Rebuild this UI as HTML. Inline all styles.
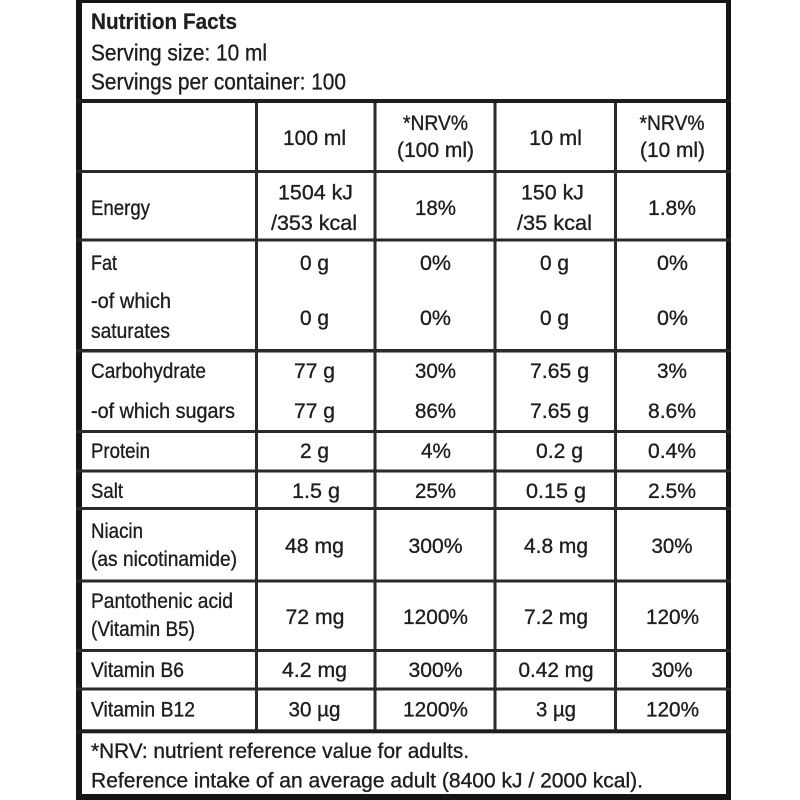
<!DOCTYPE html>
<html>
<head>
<meta charset="utf-8">
<style>
html,body{margin:0;padding:0;background:#fff;}
svg{display:block;}
text{font-family:"Liberation Sans",Arial,sans-serif;fill:#1e1e1e;stroke:#1e1e1e;stroke-width:0.35px;font-size:21.5px;}
.t{font-weight:bold;font-size:22px;stroke-width:0.2px;}
.h{font-size:23.5px;}
</style>
</head>
<body>
<svg width="800" height="800" viewBox="0 0 800 800" xmlns="http://www.w3.org/2000/svg">
<rect x="0" y="0" width="800" height="800" fill="#fff"/>
<!-- outer border -->
<rect x="76" y="0" width="655" height="3" fill="#151515"/>
<rect x="76" y="0" width="6" height="800" fill="#151515"/>
<rect x="726" y="0" width="5" height="800" fill="#151515"/>
<rect x="76" y="794" width="655" height="6" fill="#151515"/>
<!-- horizontal lines -->
<rect x="76" y="99" width="655" height="4" fill="#1e1e1e"/>
<rect x="76" y="170" width="655" height="3" fill="#2a2a2a"/>
<rect x="76" y="238.5" width="655" height="3" fill="#2a2a2a"/>
<rect x="76" y="349" width="655" height="3.5" fill="#2a2a2a"/>
<rect x="76" y="430" width="655" height="3" fill="#2a2a2a"/>
<rect x="76" y="469.5" width="655" height="3" fill="#2a2a2a"/>
<rect x="76" y="507" width="655" height="3" fill="#2a2a2a"/>
<rect x="76" y="579.5" width="655" height="3" fill="#2a2a2a"/>
<rect x="76" y="649" width="655" height="3" fill="#2a2a2a"/>
<rect x="76" y="687.5" width="655" height="3" fill="#2a2a2a"/>
<rect x="76" y="729.3" width="655" height="4" fill="#1e1e1e"/>
<!-- vertical lines -->
<rect x="255" y="103" width="3" height="627" fill="#2a2a2a"/>
<rect x="373.5" y="103" width="3" height="627" fill="#2a2a2a"/>
<rect x="493.5" y="103" width="3" height="627" fill="#2a2a2a"/>
<rect x="614" y="103" width="3" height="627" fill="#2a2a2a"/>

<!-- header -->
<text class="t" x="91" y="29" textLength="146" lengthAdjust="spacingAndGlyphs">Nutrition Facts</text>
<text class="h" x="91" y="60.5" textLength="176" lengthAdjust="spacingAndGlyphs">Serving size: 10 ml</text>
<text class="h" x="91" y="89.5" textLength="255" lengthAdjust="spacingAndGlyphs">Servings per container: 100</text>

<!-- column headers -->
<text x="283" y="145" textLength="63" lengthAdjust="spacingAndGlyphs">100 ml</text>
<text x="403" y="130" textLength="65" lengthAdjust="spacingAndGlyphs">*NRV%</text>
<text x="397" y="157" textLength="77" lengthAdjust="spacingAndGlyphs">(100 ml)</text>
<text x="529" y="145" textLength="53" lengthAdjust="spacingAndGlyphs">10 ml</text>
<text x="639.5" y="130" textLength="65" lengthAdjust="spacingAndGlyphs">*NRV%</text>
<text x="640" y="157" textLength="65" lengthAdjust="spacingAndGlyphs">(10 ml)</text>

<!-- Energy -->
<text x="91" y="215" textLength="59" lengthAdjust="spacingAndGlyphs">Energy</text>
<text x="278" y="199.5" textLength="75" lengthAdjust="spacingAndGlyphs">1504 kJ</text>
<text x="271" y="230" textLength="86" lengthAdjust="spacingAndGlyphs">/353 kcal</text>
<text x="415" y="215" textLength="41" lengthAdjust="spacingAndGlyphs">18%</text>
<text x="521" y="199.5" textLength="63" lengthAdjust="spacingAndGlyphs">150 kJ</text>
<text x="517" y="230" textLength="75" lengthAdjust="spacingAndGlyphs">/35 kcal</text>
<text x="648" y="215" textLength="48" lengthAdjust="spacingAndGlyphs">1.8%</text>

<!-- Fat -->
<text x="91" y="270" textLength="26" lengthAdjust="spacingAndGlyphs">Fat</text>
<text x="300" y="270" textLength="29" lengthAdjust="spacingAndGlyphs">0 g</text>
<text x="420" y="270" textLength="31" lengthAdjust="spacingAndGlyphs">0%</text>
<text x="540" y="270" textLength="29" lengthAdjust="spacingAndGlyphs">0 g</text>
<text x="657" y="270" textLength="31" lengthAdjust="spacingAndGlyphs">0%</text>

<!-- saturates -->
<text x="91" y="308" textLength="80" lengthAdjust="spacingAndGlyphs">-of which</text>
<text x="91" y="338" textLength="79" lengthAdjust="spacingAndGlyphs">saturates</text>
<text x="300" y="325" textLength="29" lengthAdjust="spacingAndGlyphs">0 g</text>
<text x="420" y="325" textLength="31" lengthAdjust="spacingAndGlyphs">0%</text>
<text x="540" y="325" textLength="29" lengthAdjust="spacingAndGlyphs">0 g</text>
<text x="657" y="325" textLength="31" lengthAdjust="spacingAndGlyphs">0%</text>

<!-- Carbohydrate -->
<text x="91" y="378" textLength="115" lengthAdjust="spacingAndGlyphs">Carbohydrate</text>
<text x="294" y="378" textLength="41" lengthAdjust="spacingAndGlyphs">77 g</text>
<text x="415" y="378" textLength="41" lengthAdjust="spacingAndGlyphs">30%</text>
<text x="530" y="378" textLength="59" lengthAdjust="spacingAndGlyphs">7.65 g</text>
<text x="657" y="378" textLength="30" lengthAdjust="spacingAndGlyphs">3%</text>

<!-- sugars -->
<text x="91" y="418" textLength="144" lengthAdjust="spacingAndGlyphs">-of which sugars</text>
<text x="294" y="418" textLength="41" lengthAdjust="spacingAndGlyphs">77 g</text>
<text x="415" y="418" textLength="41" lengthAdjust="spacingAndGlyphs">86%</text>
<text x="530" y="418" textLength="59" lengthAdjust="spacingAndGlyphs">7.65 g</text>
<text x="648" y="418" textLength="48" lengthAdjust="spacingAndGlyphs">8.6%</text>

<!-- Protein -->
<text x="91" y="458" textLength="59" lengthAdjust="spacingAndGlyphs">Protein</text>
<text x="300" y="458" textLength="29" lengthAdjust="spacingAndGlyphs">2 g</text>
<text x="421" y="458" textLength="30" lengthAdjust="spacingAndGlyphs">4%</text>
<text x="536" y="458" textLength="47" lengthAdjust="spacingAndGlyphs">0.2 g</text>
<text x="648" y="458" textLength="48" lengthAdjust="spacingAndGlyphs">0.4%</text>

<!-- Salt -->
<text x="91" y="498" textLength="32" lengthAdjust="spacingAndGlyphs">Salt</text>
<text x="292" y="498" textLength="48" lengthAdjust="spacingAndGlyphs">1.5 g</text>
<text x="415" y="498" textLength="41" lengthAdjust="spacingAndGlyphs">25%</text>
<text x="526" y="498" textLength="60" lengthAdjust="spacingAndGlyphs">0.15 g</text>
<text x="648" y="498" textLength="48" lengthAdjust="spacingAndGlyphs">2.5%</text>

<!-- Niacin -->
<text x="91" y="538" textLength="52" lengthAdjust="spacingAndGlyphs">Niacin</text>
<text x="91" y="566" textLength="146" lengthAdjust="spacingAndGlyphs">(as nicotinamide)</text>
<text x="285" y="553" textLength="59" lengthAdjust="spacingAndGlyphs">48 mg</text>
<text x="408.5" y="553" textLength="54" lengthAdjust="spacingAndGlyphs">300%</text>
<text x="524" y="553" textLength="64" lengthAdjust="spacingAndGlyphs">4.8 mg</text>
<text x="651.5" y="553" textLength="41" lengthAdjust="spacingAndGlyphs">30%</text>

<!-- Pantothenic -->
<text x="91" y="608" textLength="142" lengthAdjust="spacingAndGlyphs">Pantothenic acid</text>
<text x="91" y="636" textLength="104" lengthAdjust="spacingAndGlyphs">(Vitamin B5)</text>
<text x="285.5" y="624" textLength="59" lengthAdjust="spacingAndGlyphs">72 mg</text>
<text x="403" y="624" textLength="65" lengthAdjust="spacingAndGlyphs">1200%</text>
<text x="524" y="624" textLength="64" lengthAdjust="spacingAndGlyphs">7.2 mg</text>
<text x="646" y="624" textLength="53" lengthAdjust="spacingAndGlyphs">120%</text>

<!-- B6 -->
<text x="91" y="677" textLength="93" lengthAdjust="spacingAndGlyphs">Vitamin B6</text>
<text x="282" y="677" textLength="65" lengthAdjust="spacingAndGlyphs">4.2 mg</text>
<text x="408.5" y="677" textLength="54" lengthAdjust="spacingAndGlyphs">300%</text>
<text x="518.5" y="677" textLength="75" lengthAdjust="spacingAndGlyphs">0.42 mg</text>
<text x="651.5" y="677" textLength="41" lengthAdjust="spacingAndGlyphs">30%</text>

<!-- B12 -->
<text x="91" y="716.5" textLength="104" lengthAdjust="spacingAndGlyphs">Vitamin B12</text>
<text x="288.5" y="716.5" textLength="52" lengthAdjust="spacingAndGlyphs">30 µg</text>
<text x="403" y="716.5" textLength="65" lengthAdjust="spacingAndGlyphs">1200%</text>
<text x="536" y="716.5" textLength="40" lengthAdjust="spacingAndGlyphs">3 µg</text>
<text x="646" y="716.5" textLength="53" lengthAdjust="spacingAndGlyphs">120%</text>

<!-- footnote -->
<text x="91" y="758" textLength="378" lengthAdjust="spacingAndGlyphs">*NRV: nutrient reference value for adults.</text>
<text x="91" y="787.5" textLength="552" lengthAdjust="spacingAndGlyphs">Reference intake of an average adult (8400 kJ / 2000 kcal).</text>
</svg>
</body>
</html>
